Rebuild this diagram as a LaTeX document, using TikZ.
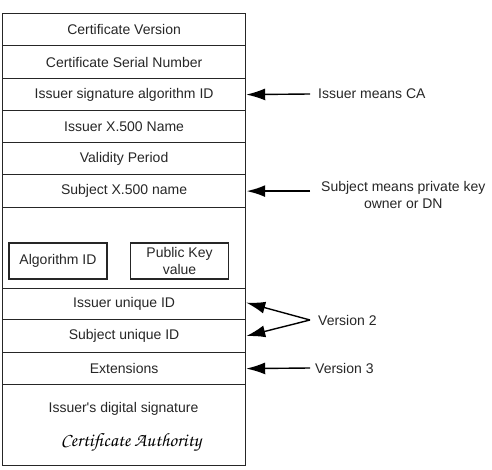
\documentclass[tikz,border=0pt]{standalone}
\usepackage[T1]{fontenc}
\usepackage{fontspec}
\setmainfont{Liberation Sans}
\usetikzlibrary{arrows.meta}
\begin{document}
\begin{tikzpicture}[x=1pt,y=-1pt,
  every node/.style={font=\fontsize{14}{17}\selectfont, text=black!85},
  row/.style={draw=black!85, line width=1.2pt, minimum width=243pt, inner sep=0pt, anchor=north west},
  sub/.style={draw=black!85, line width=1.2pt, minimum width=98pt, minimum height=36pt, inner sep=0pt, align=center},
  lab/.style={anchor=west, inner ysep=0pt},
  arr/.style={draw=black, line width=1.4pt, -{Latex[length=19pt,width=12pt]}}]
\useasboundingbox (0,0) rectangle (492,470);
\node[row, minimum height=32pt] (r1) at (2,13) {Certificate Version};
\node[row, minimum height=33pt] (r2) at (2,45) {Certificate Serial Number};
\node[row, minimum height=32pt] (r3) at (2,78) {Issuer signature algorithm ID};
\node[row, minimum height=32pt] (r4) at (2,110) {Issuer X.500 Name};
\node[row, minimum height=32pt] (r5) at (2,142) {Validity Period};
\node[row, minimum height=33pt] (r6) at (2,174) {Subject X.500 name};
\node[row, minimum height=81pt] (r7) at (2,207) {};
\node[row, minimum height=31pt] (r8) at (2,288) {Issuer unique ID};
\node[row, minimum height=33pt] (r9) at (2,319) {Subject unique ID};
\node[row, minimum height=32pt] (r10) at (2,352) {Extensions};
\node[row, minimum height=81pt] (r11) at (2,384) {};
\node[sub] (alg) at (58,261) {Algorithm ID};
\node[sub] (pk) at (179.5,261) {Public Key\\value};
\node (sig) at (123.5,409) {Issuer\textquotesingle s digital signature};
\node[font={\fontencoding{T1}\fontfamily{pzc}\fontsize{19}{22}\selectfont}, text=black] (ca) at (131,443) {Certificate Authority};
% right-side labels
\node[lab, inner xsep=8pt] (l1) at (310,94) {Issuer means CA};
\node[lab, inner xsep=11pt, align=center, anchor=north west] (l2) at (310,181) {Subject means private key\\owner or DN};
\node[lab, inner xsep=8pt] (l3) at (310,320) {Version 2};
\node[lab, inner xsep=5pt] (l4) at (310,368) {Version 3};
\draw[arr, line width=1.4pt] (l1.west) -- (r3.east);
\draw[arr, line width=2.4pt] (l2.west |- r6.east) -- (r6.east);
\draw[arr] (l3.west) -- ([yshift=1.5pt]r8.east);
\draw[arr] (l3.west) -- (r9.east);
\draw[arr] (l4.west) -- (r10.east);
\end{tikzpicture}
\end{document}
